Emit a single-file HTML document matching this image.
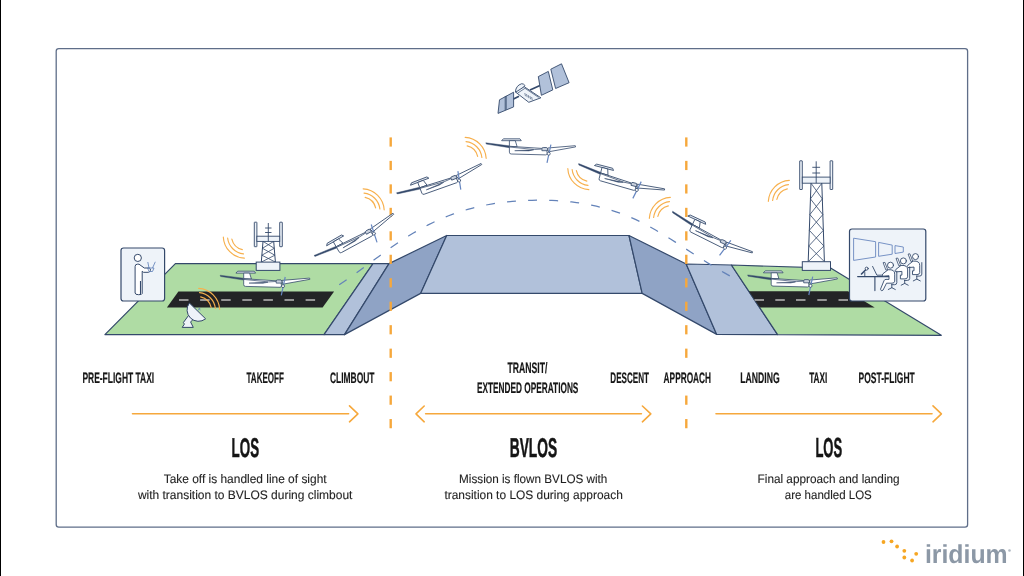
<!DOCTYPE html>
<html><head><meta charset="utf-8"><style>
html,body{margin:0;padding:0;background:#fff;}
svg{display:block;will-change:transform;}
text{text-rendering:geometricPrecision;}
</style></head><body>
<svg width="1024" height="576" viewBox="0 0 1024 576">
<rect x="0" y="0" width="1" height="576" fill="#000"/>
<rect x="1023" y="0" width="1" height="576" fill="#000"/>
<rect x="56.2" y="48.6" width="911.4" height="478.5" rx="2.6" fill="none" stroke="#5f6e89" stroke-width="1.3"/>
<polygon points="175.4,263.6 373,263.6 324,334.6 104.9,334.6" fill="#afdca4" stroke="#34496b" stroke-width="1.2" stroke-linejoin="round"/>
<polygon points="373,263.6 389,263.6 344.5,334.6 324,334.6" fill="#b1c1da" stroke="#34496b" stroke-width="1.2" stroke-linejoin="round"/>
<polygon points="389,263.6 446.7,235.5 420.6,293.4 344.5,334.6" fill="#8fa3c5" stroke="#34496b" stroke-width="1.2" stroke-linejoin="round"/>
<polygon points="446.7,235.5 629,235.5 642.2,293.4 420.6,293.4" fill="#b1c1da" stroke="#34496b" stroke-width="1.2" stroke-linejoin="round"/>
<polygon points="629,235.5 686.2,264 716.7,334.4 642.2,293.4" fill="#8fa3c5" stroke="#34496b" stroke-width="1.2" stroke-linejoin="round"/>
<polygon points="686.2,264 731.4,265 777.6,334.6 716.7,334.4" fill="#b1c1da" stroke="#34496b" stroke-width="1.2" stroke-linejoin="round"/>
<polygon points="731.4,265 831,268.2 941.3,335.3 777.6,334.6" fill="#afdca4" stroke="#34496b" stroke-width="1.2" stroke-linejoin="round"/>
<polygon points="178.4,291.4 334.1,291.4 322.6,307.6 166.9,307.6" fill="#232426"/>
<g fill="#949494"><rect x="179.0" y="299" width="9.5" height="2"/><rect x="200.1" y="299" width="9.5" height="2"/><rect x="221.2" y="299" width="9.5" height="2"/><rect x="242.3" y="299" width="9.5" height="2"/><rect x="263.4" y="299" width="9.5" height="2"/><rect x="284.5" y="299" width="9.5" height="2"/><rect x="305.6" y="299" width="9.5" height="2"/></g>
<polygon points="748.9,291.2 848,291.2 874.7,307.6 759.9,307.6" fill="#232426"/>
<g fill="#949494"><rect x="754.5" y="299" width="9.5" height="2"/><rect x="775.3" y="299" width="9.5" height="2"/><rect x="796" y="299" width="9.5" height="2"/><rect x="817.3" y="299" width="9.5" height="2"/><rect x="838.5" y="299" width="9.5" height="2"/></g>
<path d="M339.2,284.74 L344.1,281.53 L349.1,278.16 L354.0,274.68 L359.0,271.10 L363.9,267.45 L368.9,263.77 L373.8,260.07 L378.8,256.39 L383.7,252.75 L388.6,249.19 L393.6,245.73 L398.5,242.37 L403.5,239.14 L408.4,236.02 L413.4,233.03 L418.3,230.18 L423.3,227.45 L428.2,224.87 L433.1,222.44 L438.1,220.15 L443.0,218.01 L448.0,216.01 L452.9,214.15 L457.9,212.43 L462.8,210.84 L467.8,209.38 L472.7,208.05 L477.6,206.83 L482.6,205.73 L487.5,204.74 L492.5,203.87 L497.4,203.09 L502.4,202.42 L507.3,201.85 L512.3,201.37 L517.2,200.98 L522.1,200.67 L527.1,200.45 L532.0,200.31 L537.0,200.24 L541.9,200.24 L546.9,200.32 L551.8,200.47 L556.7,200.71 L561.7,201.04 L566.6,201.47 L571.6,201.99 L576.5,202.61 L581.5,203.34 L586.4,204.18 L591.4,205.13 L596.3,206.21 L601.2,207.41 L606.2,208.74 L611.1,210.20 L616.1,211.80 L621.0,213.55 L626.0,215.44 L630.9,217.49 L635.9,219.69 L640.8,222.05 L645.7,224.58 L650.7,227.24 L655.6,230.04 L660.6,232.94 L665.5,235.94 L670.5,239.01 L675.4,242.15 L680.4,245.32 L685.3,248.53 L690.2,251.75 L695.2,254.95 L700.1,258.14 L705.1,261.29 L710.0,264.38 L715.0,267.39 L719.9,270.32 L724.9,273.14 L729.8,275.84" fill="none" stroke="#6483b9" stroke-width="1.25" stroke-dasharray="8.9 12.21"/>
<g stroke="#f6a83c" stroke-width="2.4"><line x1="390.7" y1="137.40" x2="390.7" y2="146.60"/><line x1="390.7" y1="160.87" x2="390.7" y2="170.07"/><line x1="390.7" y1="184.34" x2="390.7" y2="193.54"/><line x1="390.7" y1="207.81" x2="390.7" y2="217.01"/><line x1="390.7" y1="231.28" x2="390.7" y2="240.48"/><line x1="390.7" y1="254.75" x2="390.7" y2="263.95"/><line x1="390.7" y1="278.22" x2="390.7" y2="287.42"/><line x1="390.7" y1="301.69" x2="390.7" y2="310.89"/><line x1="390.7" y1="325.16" x2="390.7" y2="334.36"/><line x1="390.7" y1="348.63" x2="390.7" y2="357.83"/><line x1="390.7" y1="372.10" x2="390.7" y2="381.30"/><line x1="390.7" y1="395.57" x2="390.7" y2="404.77"/><line x1="390.7" y1="419.04" x2="390.7" y2="428.24"/></g>
<g stroke="#f6a83c" stroke-width="2.4"><line x1="686.3" y1="137.40" x2="686.3" y2="146.60"/><line x1="686.3" y1="160.87" x2="686.3" y2="170.07"/><line x1="686.3" y1="184.34" x2="686.3" y2="193.54"/><line x1="686.3" y1="207.81" x2="686.3" y2="217.01"/><line x1="686.3" y1="231.28" x2="686.3" y2="240.48"/><line x1="686.3" y1="254.75" x2="686.3" y2="263.95"/><line x1="686.3" y1="278.22" x2="686.3" y2="287.42"/><line x1="686.3" y1="301.69" x2="686.3" y2="310.89"/><line x1="686.3" y1="325.16" x2="686.3" y2="334.36"/><line x1="686.3" y1="348.63" x2="686.3" y2="357.83"/><line x1="686.3" y1="395.57" x2="686.3" y2="404.77"/><line x1="686.3" y1="419.04" x2="686.3" y2="428.24"/></g>
<rect x="254.3" y="222.2" width="2.6" height="24.5" fill="#eef3f9" stroke="#34496b" stroke-width="0.9" rx="0.3"/><rect x="279.7" y="222.2" width="2.6" height="24.5" fill="#eef3f9" stroke="#34496b" stroke-width="0.9" rx="0.3"/><rect x="256.90000000000003" y="236.2" width="22.8" height="5.200000000000017" fill="#eef3f9" stroke="#34496b" stroke-width="0.9"/><line x1="268.3" y1="223" x2="268.3" y2="241.4" stroke="#34496b" stroke-width="0.9"/><line x1="265.1" y1="228" x2="271.5" y2="228" stroke="#34496b" stroke-width="0.9"/><line x1="265.1" y1="232.5" x2="271.5" y2="232.5" stroke="#34496b" stroke-width="0.9"/><line x1="263" y1="241.4" x2="261.3" y2="262.1" stroke="#34496b" stroke-width="1"/><line x1="273.7" y1="241.4" x2="275.4" y2="262.1" stroke="#34496b" stroke-width="1"/><line x1="263.00" y1="241.40" x2="274.27" y2="248.30" stroke="#34496b" stroke-width="0.8"/><line x1="273.70" y1="241.40" x2="262.43" y2="248.30" stroke="#34496b" stroke-width="0.8"/><line x1="262.43" y1="248.30" x2="274.83" y2="255.20" stroke="#34496b" stroke-width="0.8"/><line x1="274.27" y1="248.30" x2="261.87" y2="255.20" stroke="#34496b" stroke-width="0.8"/><line x1="261.87" y1="255.20" x2="275.40" y2="262.10" stroke="#34496b" stroke-width="0.8"/><line x1="274.83" y1="255.20" x2="261.30" y2="262.10" stroke="#34496b" stroke-width="0.8"/><rect x="256.2" y="262.1" width="23.69999999999999" height="8.299999999999955" fill="#eef3f9" stroke="#34496b" stroke-width="1"/>
<rect x="799.7" y="160.8" width="2.6" height="28.69999999999999" fill="#eef3f9" stroke="#34496b" stroke-width="0.9" rx="0.3"/><rect x="830.1" y="160.8" width="2.6" height="28.69999999999999" fill="#eef3f9" stroke="#34496b" stroke-width="0.9" rx="0.3"/><rect x="802.3000000000001" y="177.1" width="27.8" height="6.099999999999994" fill="#eef3f9" stroke="#34496b" stroke-width="0.9"/><line x1="816.2" y1="161.3" x2="816.2" y2="183.2" stroke="#34496b" stroke-width="0.9"/><line x1="812.3000000000001" y1="167.3" x2="820.1" y2="167.3" stroke="#34496b" stroke-width="0.9"/><line x1="812.3000000000001" y1="173.0" x2="820.1" y2="173.0" stroke="#34496b" stroke-width="0.9"/><line x1="811" y1="183.2" x2="808.2" y2="261.7" stroke="#34496b" stroke-width="1"/><line x1="821.8" y1="183.2" x2="824.4" y2="261.7" stroke="#34496b" stroke-width="1"/><line x1="811.00" y1="183.20" x2="822.32" y2="198.90" stroke="#34496b" stroke-width="0.8"/><line x1="821.80" y1="183.20" x2="810.44" y2="198.90" stroke="#34496b" stroke-width="0.8"/><line x1="810.44" y1="198.90" x2="822.84" y2="214.60" stroke="#34496b" stroke-width="0.8"/><line x1="822.32" y1="198.90" x2="809.88" y2="214.60" stroke="#34496b" stroke-width="0.8"/><line x1="809.88" y1="214.60" x2="823.36" y2="230.30" stroke="#34496b" stroke-width="0.8"/><line x1="822.84" y1="214.60" x2="809.32" y2="230.30" stroke="#34496b" stroke-width="0.8"/><line x1="809.32" y1="230.30" x2="823.88" y2="246.00" stroke="#34496b" stroke-width="0.8"/><line x1="823.36" y1="230.30" x2="808.76" y2="246.00" stroke="#34496b" stroke-width="0.8"/><line x1="808.76" y1="246.00" x2="824.40" y2="261.70" stroke="#34496b" stroke-width="0.8"/><line x1="823.88" y1="246.00" x2="808.20" y2="261.70" stroke="#34496b" stroke-width="0.8"/><rect x="802.3" y="261.7" width="28.200000000000045" height="8.699999999999989" fill="#eef3f9" stroke="#34496b" stroke-width="1"/>
<g fill="none" stroke="#f7b04d" stroke-width="1.15" stroke-linecap="round"><path d="M242.35,249.64 A14,14 0 0 1 231.86,239.15"/><path d="M243.46,253.88 A18,18 0 0 1 227.62,238.04"/><path d="M244.34,258.17 A22.2,22.2 0 0 1 223.33,237.16"/></g>
<g fill="none" stroke="#f7b04d" stroke-width="1.15" stroke-linecap="round"><path d="M200.65,296.86 A14,14 0 0 1 211.14,307.35"/><path d="M199.54,292.62 A18,18 0 0 1 215.38,308.46"/><path d="M198.66,288.33 A22.2,22.2 0 0 1 219.67,309.34"/></g>
<g fill="none" stroke="#f7b04d" stroke-width="1.15" stroke-linecap="round"><path d="M365.15,197.36 A14,14 0 0 1 375.64,207.85"/><path d="M364.04,193.12 A18,18 0 0 1 379.88,208.96"/><path d="M363.16,188.83 A22.2,22.2 0 0 1 384.17,209.84"/></g>
<g fill="none" stroke="#f7b04d" stroke-width="1.15" stroke-linecap="round"><path d="M467.15,145.86 A14,14 0 0 1 477.64,156.35"/><path d="M466.04,141.62 A18,18 0 0 1 481.88,157.46"/><path d="M465.16,137.33 A22.2,22.2 0 0 1 486.17,158.34"/></g>
<g fill="none" stroke="#f7b04d" stroke-width="1.15" stroke-linecap="round"><path d="M586.85,181.14 A14,14 0 0 1 576.36,170.65"/><path d="M587.96,185.38 A18,18 0 0 1 572.12,169.54"/><path d="M588.84,189.67 A22.2,22.2 0 0 1 567.83,168.66"/></g>
<g fill="none" stroke="#f7b04d" stroke-width="1.15" stroke-linecap="round"><path d="M657.86,216.35 A14,14 0 0 1 668.35,205.86"/><path d="M653.62,217.46 A18,18 0 0 1 669.46,201.62"/><path d="M649.33,218.34 A22.2,22.2 0 0 1 670.34,197.33"/></g>
<g fill="none" stroke="#f7b04d" stroke-width="1.15" stroke-linecap="round"><path d="M776.86,199.35 A14,14 0 0 1 787.35,188.86"/><path d="M772.62,200.46 A18,18 0 0 1 788.46,184.62"/><path d="M768.33,201.34 A22.2,22.2 0 0 1 789.34,180.33"/></g>

<g transform="translate(283,286.1) rotate(0)" stroke="#34496b" stroke-width="0.8" stroke-linejoin="round">
  <path d="M-62.9,-10.9 L-39.5,-7.9 L-39.5,-6 L-62.4,-9.6 Z" fill="#34496b" stroke-width="0.4"/>
  <polygon points="-45.3,-14.9 -28.8,-14.9 -27.4,-13 -47.1,-13" fill="#e4e9f1"/>
  <polygon points="-39.3,-13 -33.4,-13 -31.6,-7.1 -39.3,-7.3" fill="#fff"/>
  <path d="M-39.3,-7.4 L-7,-5.3 L-2,-4 L-1.5,0 Q-1.8,1.2 -3,1.2 L-37.5,0.3 Q-39.3,0.3 -39.3,-1.5 Z" fill="#fff"/>
  <path d="M-39.5,-6.7 L-14.4,-4.2 L-7,-4.6" fill="none" stroke-width="0.7"/>
  <path d="M-34,-3 L-15,-3.9 L-20,-2.8 Z" fill="#34496b" stroke-width="0.5"/>
  <path d="M-6.8,-3 L-6.8,-5 Q-6.8,-6.2 -5.5,-6.2 L-2,-6.2 L-1,-4.8 L-1,-3 Z" fill="#c9d1dd"/>
  <polygon points="-1,-5.7 26.6,-8 26.9,-6.8 -0.2,-1.9" fill="#fff"/>
  <line x1="2.2" y1="-9.1" x2="-1.7" y2="9.2" stroke="#6686c0" stroke-width="1.2"/>
  <circle cx="0" cy="0" r="1.5" fill="#fff"/>
</g>

<g transform="translate(373.9,233.5) rotate(-30)" stroke="#34496b" stroke-width="0.8" stroke-linejoin="round">
  <path d="M-62.9,-10.9 L-39.5,-7.9 L-39.5,-6 L-62.4,-9.6 Z" fill="#34496b" stroke-width="0.4"/>
  <polygon points="-45.3,-14.9 -28.8,-14.9 -27.4,-13 -47.1,-13" fill="#e4e9f1"/>
  <polygon points="-39.3,-13 -33.4,-13 -31.6,-7.1 -39.3,-7.3" fill="#fff"/>
  <path d="M-39.3,-7.4 L-7,-5.3 L-2,-4 L-1.5,0 Q-1.8,1.2 -3,1.2 L-37.5,0.3 Q-39.3,0.3 -39.3,-1.5 Z" fill="#fff"/>
  <path d="M-39.5,-6.7 L-14.4,-4.2 L-7,-4.6" fill="none" stroke-width="0.7"/>
  <path d="M-34,-3 L-15,-3.9 L-20,-2.8 Z" fill="#34496b" stroke-width="0.5"/>
  <path d="M-6.8,-3 L-6.8,-5 Q-6.8,-6.2 -5.5,-6.2 L-2,-6.2 L-1,-4.8 L-1,-3 Z" fill="#c9d1dd"/>
  <polygon points="-1,-5.7 26.6,-8 26.9,-6.8 -0.2,-1.9" fill="#fff"/>
  <line x1="2.2" y1="-9.1" x2="-1.7" y2="9.2" stroke="#6686c0" stroke-width="1.2"/>
  <circle cx="0" cy="0" r="1.5" fill="#fff"/>
</g>

<g transform="translate(459.1,180.5) rotate(-21)" stroke="#34496b" stroke-width="0.8" stroke-linejoin="round">
  <path d="M-62.9,-10.9 L-39.5,-7.9 L-39.5,-6 L-62.4,-9.6 Z" fill="#34496b" stroke-width="0.4"/>
  <polygon points="-45.3,-14.9 -28.8,-14.9 -27.4,-13 -47.1,-13" fill="#e4e9f1"/>
  <polygon points="-39.3,-13 -33.4,-13 -31.6,-7.1 -39.3,-7.3" fill="#fff"/>
  <path d="M-39.3,-7.4 L-7,-5.3 L-2,-4 L-1.5,0 Q-1.8,1.2 -3,1.2 L-37.5,0.3 Q-39.3,0.3 -39.3,-1.5 Z" fill="#fff"/>
  <path d="M-39.5,-6.7 L-14.4,-4.2 L-7,-4.6" fill="none" stroke-width="0.7"/>
  <path d="M-34,-3 L-15,-3.9 L-20,-2.8 Z" fill="#34496b" stroke-width="0.5"/>
  <path d="M-6.8,-3 L-6.8,-5 Q-6.8,-6.2 -5.5,-6.2 L-2,-6.2 L-1,-4.8 L-1,-3 Z" fill="#c9d1dd"/>
  <polygon points="-1,-5.7 26.6,-8 26.9,-6.8 -0.2,-1.9" fill="#fff"/>
  <line x1="2.2" y1="-9.1" x2="-1.7" y2="9.2" stroke="#6686c0" stroke-width="1.2"/>
  <circle cx="0" cy="0" r="1.5" fill="#fff"/>
</g>

<g transform="translate(548.7,153.7) rotate(0)" stroke="#34496b" stroke-width="0.8" stroke-linejoin="round">
  <path d="M-62.9,-10.9 L-39.5,-7.9 L-39.5,-6 L-62.4,-9.6 Z" fill="#34496b" stroke-width="0.4"/>
  <polygon points="-45.3,-14.9 -28.8,-14.9 -27.4,-13 -47.1,-13" fill="#e4e9f1"/>
  <polygon points="-39.3,-13 -33.4,-13 -31.6,-7.1 -39.3,-7.3" fill="#fff"/>
  <path d="M-39.3,-7.4 L-7,-5.3 L-2,-4 L-1.5,0 Q-1.8,1.2 -3,1.2 L-37.5,0.3 Q-39.3,0.3 -39.3,-1.5 Z" fill="#fff"/>
  <path d="M-39.5,-6.7 L-14.4,-4.2 L-7,-4.6" fill="none" stroke-width="0.7"/>
  <path d="M-34,-3 L-15,-3.9 L-20,-2.8 Z" fill="#34496b" stroke-width="0.5"/>
  <path d="M-6.8,-3 L-6.8,-5 Q-6.8,-6.2 -5.5,-6.2 L-2,-6.2 L-1,-4.8 L-1,-3 Z" fill="#c9d1dd"/>
  <polygon points="-1,-5.7 26.6,-8 26.9,-6.8 -0.2,-1.9" fill="#fff"/>
  <line x1="2.2" y1="-9.1" x2="-1.7" y2="9.2" stroke="#6686c0" stroke-width="1.2"/>
  <circle cx="0" cy="0" r="1.5" fill="#fff"/>
</g>

<g transform="translate(636.8,189.9) rotate(14.5)" stroke="#34496b" stroke-width="0.8" stroke-linejoin="round">
  <path d="M-62.9,-10.9 L-39.5,-7.9 L-39.5,-6 L-62.4,-9.6 Z" fill="#34496b" stroke-width="0.4"/>
  <polygon points="-45.3,-14.9 -28.8,-14.9 -27.4,-13 -47.1,-13" fill="#e4e9f1"/>
  <polygon points="-39.3,-13 -33.4,-13 -31.6,-7.1 -39.3,-7.3" fill="#fff"/>
  <path d="M-39.3,-7.4 L-7,-5.3 L-2,-4 L-1.5,0 Q-1.8,1.2 -3,1.2 L-37.5,0.3 Q-39.3,0.3 -39.3,-1.5 Z" fill="#fff"/>
  <path d="M-39.5,-6.7 L-14.4,-4.2 L-7,-4.6" fill="none" stroke-width="0.7"/>
  <path d="M-34,-3 L-15,-3.9 L-20,-2.8 Z" fill="#34496b" stroke-width="0.5"/>
  <path d="M-6.8,-3 L-6.8,-5 Q-6.8,-6.2 -5.5,-6.2 L-2,-6.2 L-1,-4.8 L-1,-3 Z" fill="#c9d1dd"/>
  <polygon points="-1,-5.7 26.6,-8 26.9,-6.8 -0.2,-1.9" fill="#fff"/>
  <line x1="2.2" y1="-9.1" x2="-1.7" y2="9.2" stroke="#6686c0" stroke-width="1.2"/>
  <circle cx="0" cy="0" r="1.5" fill="#fff"/>
</g>

<g transform="translate(725,247.7) rotate(25)" stroke="#34496b" stroke-width="0.8" stroke-linejoin="round">
  <path d="M-62.9,-10.9 L-39.5,-7.9 L-39.5,-6 L-62.4,-9.6 Z" fill="#34496b" stroke-width="0.4"/>
  <polygon points="-45.3,-14.9 -28.8,-14.9 -27.4,-13 -47.1,-13" fill="#e4e9f1"/>
  <polygon points="-39.3,-13 -33.4,-13 -31.6,-7.1 -39.3,-7.3" fill="#fff"/>
  <path d="M-39.3,-7.4 L-7,-5.3 L-2,-4 L-1.5,0 Q-1.8,1.2 -3,1.2 L-37.5,0.3 Q-39.3,0.3 -39.3,-1.5 Z" fill="#fff"/>
  <path d="M-39.5,-6.7 L-14.4,-4.2 L-7,-4.6" fill="none" stroke-width="0.7"/>
  <path d="M-34,-3 L-15,-3.9 L-20,-2.8 Z" fill="#34496b" stroke-width="0.5"/>
  <path d="M-6.8,-3 L-6.8,-5 Q-6.8,-6.2 -5.5,-6.2 L-2,-6.2 L-1,-4.8 L-1,-3 Z" fill="#c9d1dd"/>
  <polygon points="-1,-5.7 26.6,-8 26.9,-6.8 -0.2,-1.9" fill="#fff"/>
  <line x1="2.2" y1="-9.1" x2="-1.7" y2="9.2" stroke="#6686c0" stroke-width="1.2"/>
  <circle cx="0" cy="0" r="1.5" fill="#fff"/>
</g>

<g transform="translate(810.5,285.8) rotate(0)" stroke="#34496b" stroke-width="0.8" stroke-linejoin="round">
  <path d="M-62.9,-10.9 L-39.5,-7.9 L-39.5,-6 L-62.4,-9.6 Z" fill="#34496b" stroke-width="0.4"/>
  <polygon points="-45.3,-14.9 -28.8,-14.9 -27.4,-13 -47.1,-13" fill="#e4e9f1"/>
  <polygon points="-39.3,-13 -33.4,-13 -31.6,-7.1 -39.3,-7.3" fill="#fff"/>
  <path d="M-39.3,-7.4 L-7,-5.3 L-2,-4 L-1.5,0 Q-1.8,1.2 -3,1.2 L-37.5,0.3 Q-39.3,0.3 -39.3,-1.5 Z" fill="#fff"/>
  <path d="M-39.5,-6.7 L-14.4,-4.2 L-7,-4.6" fill="none" stroke-width="0.7"/>
  <path d="M-34,-3 L-15,-3.9 L-20,-2.8 Z" fill="#34496b" stroke-width="0.5"/>
  <path d="M-6.8,-3 L-6.8,-5 Q-6.8,-6.2 -5.5,-6.2 L-2,-6.2 L-1,-4.8 L-1,-3 Z" fill="#c9d1dd"/>
  <polygon points="-1,-5.7 26.6,-8 26.9,-6.8 -0.2,-1.9" fill="#fff"/>
  <line x1="2.2" y1="-9.1" x2="-1.7" y2="9.2" stroke="#6686c0" stroke-width="1.2"/>
  <circle cx="0" cy="0" r="1.5" fill="#fff"/>
</g>
<rect x="121" y="248" width="43.6" height="53" rx="2.5" fill="#eef3f9" stroke="#34496b" stroke-width="1.2"/>
<g stroke="#34496b" stroke-width="1" fill="#fff" stroke-linejoin="round"><circle cx="137.8" cy="257.9" r="3.6"/><path d="M135.1,293 L135.1,266.5 Q135.1,264.2 137.4,264.2 L139,264.2 L144.3,268 L149.3,268 Q150.6,268.5 150.4,270.3 Q150,272.3 148.3,272.3 L143.5,272.3 L142.2,271.2 L142.2,293.5 Q142.2,294.7 138.6,294.7 Q135.1,294.7 135.1,293 Z"/><line x1="140.5" y1="281" x2="140.5" y2="294" stroke-width="1.1"/></g>
<g stroke="#5a7cb8" stroke-width="0.8" fill="none"><path d="M147.6,268 L149,271.5 L152.5,271.5 L154,268 Z"/><line x1="149" y1="268" x2="147.8" y2="262"/><line x1="152.5" y1="268" x2="155.3" y2="261.8"/></g>
<g stroke="#34496b" stroke-width="1" fill="#eef3f9" stroke-linejoin="round"><path d="M182.2,327.4 L184.4,324.1 L183.4,322.5 L188.5,315.5 L194,318.5 L190.6,322 L193.3,327.4 Z"/><path d="M189.4,303 A11.4,11.4 0 0 0 205.6,318.8 Z"/><path d="M197.5,310.8 L200.2,308 M198.5,308.2 L200.5,310" stroke="#5a7cb8" stroke-width="0.8"/></g>
<g stroke="#34496b" stroke-width="0.9" stroke-linejoin="round" fill="#b1c1da"><path d="M530,90 L540,85.5" stroke-width="1.7"/><path d="M513,99.3 L519,96.3" stroke-width="1.7"/><polygon points="498,113.4 499.5,99.8 513.6,92.2 513.6,106.9"/><path d="M505.2,96.3 L505.2,110.2 M506.2,95.8 L506.2,109.7" stroke-width="0.8"/><polygon points="538.3,76.6 548.3,71.4 552.8,89.9 541.4,95.3"/><polygon points="550.8,69.2 561.5,63.8 569.1,82.7 555.6,88.5"/><path d="M515.4,92 Q515.8,85.5 521.7,83.7 Q523.6,83.6 525,85.6 L518,93 Z" fill="#eef3f9"/><polygon points="515.7,92.2 524.2,86.7 540.9,97.8 528.8,102.3" fill="#eef3f9"/><path d="M517.5,93.2 L525,88.3 L538.6,97.4" fill="none" stroke-width="0.7"/><g stroke-width="0.6" fill="none"><line x1="524.8" y1="93.0" x2="525.5" y2="96.2"/><line x1="526.5" y1="94.0" x2="527.2" y2="97.2"/><line x1="528.2" y1="95.0" x2="528.9" y2="98.2"/><line x1="529.9" y1="96.0" x2="530.6" y2="99.2"/><line x1="531.6" y1="97.0" x2="532.3" y2="100.2"/></g></g>
<rect x="849.5" y="229" width="76.3" height="72" rx="2.5" fill="#eef3f9" stroke="#34496b" stroke-width="1.2"/>
<g fill="none" stroke="#6a88bf" stroke-width="0.9"><polygon points="853.6,238.2 875.6,241.7 875.6,257 853.6,260.4"/><polygon points="878.6,242.4 892.2,245.1 892.2,254.2 878.6,256.3"/><polygon points="895,245.6 903.3,247 903.3,252.1 895,253.5"/></g>
<g stroke="#34496b" fill="none" stroke-linecap="round" stroke-linejoin="round"><path d="M921.8,262.6 L921.8,274.1 Q921.8,276.1 919.5,276.1 L916.5,276.1" stroke-width="0.9"/><path d="M916.8,276.1 L916.8,279.1 M913.3,280.90000000000003 L916.8,279.1 L920.3,280.90000000000003" stroke-width="0.9"/><path d="M908.5,254.00000000000003 L909.9,253.8 L912.7,261.20000000000005 L911.3,261.40000000000003Z" fill="#fff" stroke-width="0.8"/><path d="M913.5,261.1 Q920.0,260.6 919.7,265.6 L919.7,272.6 Q919.5,274.6 917.0,274.6 L912.5,274.6 L912.5,270.8 L914.0,270.8 L914.0,267.1 L908.0,267.6 Q906.5,266.6 907.7,265.40000000000003 Z" fill="#fff" stroke-width="0.9"/><circle cx="915.5" cy="256.6" r="3" fill="#fff" stroke-width="0.9"/><path d="M909.6999999999999,266.9 L909.6999999999999,278.4 Q909.6999999999999,280.4 907.4,280.4 L904.4,280.4" stroke-width="0.9"/><path d="M904.6999999999999,280.4 L904.6999999999999,283.4 M901.1999999999999,285.2 L904.6999999999999,283.4 L908.1999999999999,285.2" stroke-width="0.9"/><path d="M896.4,258.29999999999995 L897.8,258.09999999999997 L900.6,265.5 L899.1999999999999,265.7Z" fill="#fff" stroke-width="0.8"/><path d="M901.4,265.4 Q907.9,264.9 907.6,269.9 L907.6,276.9 Q907.4,278.9 904.9,278.9 L900.4,278.9 L900.4,275.09999999999997 L901.9,275.09999999999997 L901.9,271.4 L895.9,271.9 Q894.4,270.9 895.6,269.7 Z" fill="#fff" stroke-width="0.9"/><circle cx="903.4" cy="260.9" r="3" fill="#fff" stroke-width="0.9"/><line x1="857.7" y1="276.6" x2="889" y2="276.6" stroke-width="1.3"/><line x1="874.9" y1="276.6" x2="874.9" y2="290.6" stroke-width="1.1"/><line x1="864.8" y1="272.5" x2="864.8" y2="276.6" stroke-width="0.9"/><line x1="861.5" y1="274" x2="866" y2="269.5" stroke-width="1.6"/><circle cx="866.7" cy="268.6" r="1.5" fill="#fff" stroke-width="0.9"/><path d="M872.6,266.4 L876.9,275.2 L881.6,275.2" stroke-width="0.9"/><path d="M896.8,271.2 L896.8,282.7 Q896.8,284.7 894.5,284.7 L891.5,284.7" stroke-width="0.9"/><path d="M891.8,284.7 L891.8,287.7 M888.3,289.5 L891.8,287.7 L895.3,289.5" stroke-width="0.9"/><path d="M883.5,262.59999999999997 L884.9,262.4 L887.7,269.8 L886.3,270.0Z" fill="#fff" stroke-width="0.8"/><path d="M888.5,269.7 Q895.0,269.2 894.7,274.2 L894.7,281.2 Q894.5,283.2 892.0,283.2 L886.5,283.2 L883.0,290.2 Q881.0,291.7 880.5,289.2 L884.0,280.7 Q884.5,279.4 886.0,279.4 L889.0,279.4 L889.0,275.7 L883.0,276.2 Q881.5,275.2 882.7,274.0 Z" fill="#fff" stroke-width="0.9"/><circle cx="890.5" cy="265.2" r="3" fill="#fff" stroke-width="0.9"/></g>
<g font-family="Liberation Sans, sans-serif"><text x="82.39999999999999" y="382.9" font-size="15.13" font-weight="bold" fill="#151515" stroke="#151515" stroke-width="0.2" textLength="71.8" lengthAdjust="spacingAndGlyphs">PRE-FLIGHT TAXI</text><text x="246.5" y="382.9" font-size="15.13" font-weight="bold" fill="#151515" stroke="#151515" stroke-width="0.2" textLength="37.4" lengthAdjust="spacingAndGlyphs">TAKEOFF</text><text x="329.90000000000003" y="382.9" font-size="15.13" font-weight="bold" fill="#151515" stroke="#151515" stroke-width="0.2" textLength="44.6" lengthAdjust="spacingAndGlyphs">CLIMBOUT</text><text x="507.40000000000003" y="373.2" font-size="15.13" font-weight="bold" fill="#151515" stroke="#151515" stroke-width="0.2" textLength="40.0" lengthAdjust="spacingAndGlyphs">TRANSIT/</text><text x="476.90000000000003" y="392.9" font-size="15.13" font-weight="bold" fill="#151515" stroke="#151515" stroke-width="0.2" textLength="101.5" lengthAdjust="spacingAndGlyphs">EXTENDED OPERATIONS</text><text x="610.3000000000001" y="382.9" font-size="15.13" font-weight="bold" fill="#151515" stroke="#151515" stroke-width="0.2" textLength="38.6" lengthAdjust="spacingAndGlyphs">DESCENT</text><text x="663.6" y="382.9" font-size="15.13" font-weight="bold" fill="#151515" stroke="#151515" stroke-width="0.2" textLength="47.5" lengthAdjust="spacingAndGlyphs">APPROACH</text><text x="740.3000000000001" y="382.9" font-size="15.13" font-weight="bold" fill="#151515" stroke="#151515" stroke-width="0.2" textLength="39.4" lengthAdjust="spacingAndGlyphs">LANDING</text><text x="809.2" y="382.9" font-size="15.13" font-weight="bold" fill="#151515" stroke="#151515" stroke-width="0.2" textLength="18.1" lengthAdjust="spacingAndGlyphs">TAXI</text><text x="858.6" y="382.9" font-size="15.13" font-weight="bold" fill="#151515" stroke="#151515" stroke-width="0.2" textLength="56.1" lengthAdjust="spacingAndGlyphs">POST-FLIGHT</text><text x="231.57500000000002" y="456.725" font-size="27.14" font-weight="bold" fill="#151515" stroke="#151515" stroke-width="0.55" textLength="27.5" lengthAdjust="spacingAndGlyphs">LOS</text><text x="509.67499999999995" y="456.82500000000005" font-size="27.14" font-weight="bold" fill="#151515" stroke="#151515" stroke-width="0.55" textLength="47.5" lengthAdjust="spacingAndGlyphs">BVLOS</text><text x="815.375" y="456.82500000000005" font-size="27.57" font-weight="bold" fill="#151515" stroke="#151515" stroke-width="0.55" textLength="26.8" lengthAdjust="spacingAndGlyphs">LOS</text><text x="163.7" y="482.8" font-size="12.3" font-weight="normal" fill="#1f1f1f" stroke="#1f1f1f" stroke-width="0.12" textLength="162.9" lengthAdjust="spacingAndGlyphs">Take off is handled line of sight</text><text x="137.9" y="498.9" font-size="12.3" font-weight="normal" fill="#1f1f1f" stroke="#1f1f1f" stroke-width="0.12" textLength="214.5" lengthAdjust="spacingAndGlyphs">with transition to BVLOS during climbout</text><text x="459.1" y="482.8" font-size="12.3" font-weight="normal" fill="#1f1f1f" stroke="#1f1f1f" stroke-width="0.12" textLength="148.3" lengthAdjust="spacingAndGlyphs">Mission is flown BVLOS with</text><text x="444.4" y="498.9" font-size="12.3" font-weight="normal" fill="#1f1f1f" stroke="#1f1f1f" stroke-width="0.12" textLength="178.4" lengthAdjust="spacingAndGlyphs">transition to LOS during approach</text><text x="757.6" y="482.8" font-size="12.3" font-weight="normal" fill="#1f1f1f" stroke="#1f1f1f" stroke-width="0.12" textLength="142.0" lengthAdjust="spacingAndGlyphs">Final approach and landing</text><text x="784.8" y="498.9" font-size="12.3" font-weight="normal" fill="#1f1f1f" stroke="#1f1f1f" stroke-width="0.12" textLength="87.0" lengthAdjust="spacingAndGlyphs">are handled LOS</text></g>
<g stroke="#f6a83c" stroke-width="1.6" fill="none" stroke-linecap="round" stroke-linejoin="round"><line x1="132.5" y1="413.8" x2="348.6" y2="413.8"/><polyline points="349.5,405.9 357.9,413.9 349.5,421.8"/><line x1="425.6" y1="413.8" x2="641.4" y2="413.8"/><polyline points="424.2,406 416,413.9 424.2,421.8"/><polyline points="642.4,406 650.8,413.9 642.4,421.8"/><line x1="716" y1="413.8" x2="932" y2="413.8"/><polyline points="933,405.9 941.4,413.9 933,421.8"/></g>
<g fill="#f6a623"><circle cx="883.5" cy="542" r="1.9"/><circle cx="891.5" cy="541.3" r="1.9"/><circle cx="897.1" cy="546.5" r="1.9"/><circle cx="904.3" cy="550.8" r="1.9"/><circle cx="904.3" cy="557.5" r="1.9"/><circle cx="912.1" cy="560.5" r="1.9"/><circle cx="916.2" cy="553.8" r="1.9"/></g>
<text x="924.9" y="562.6" font-family="Liberation Sans, sans-serif" font-size="26" font-weight="bold" fill="#8c98a6" textLength="82.8" lengthAdjust="spacingAndGlyphs">iridium</text>
<circle cx="1009.5" cy="550.5" r="1.3" fill="#b0b9c3"/>
</svg>
</body></html>
